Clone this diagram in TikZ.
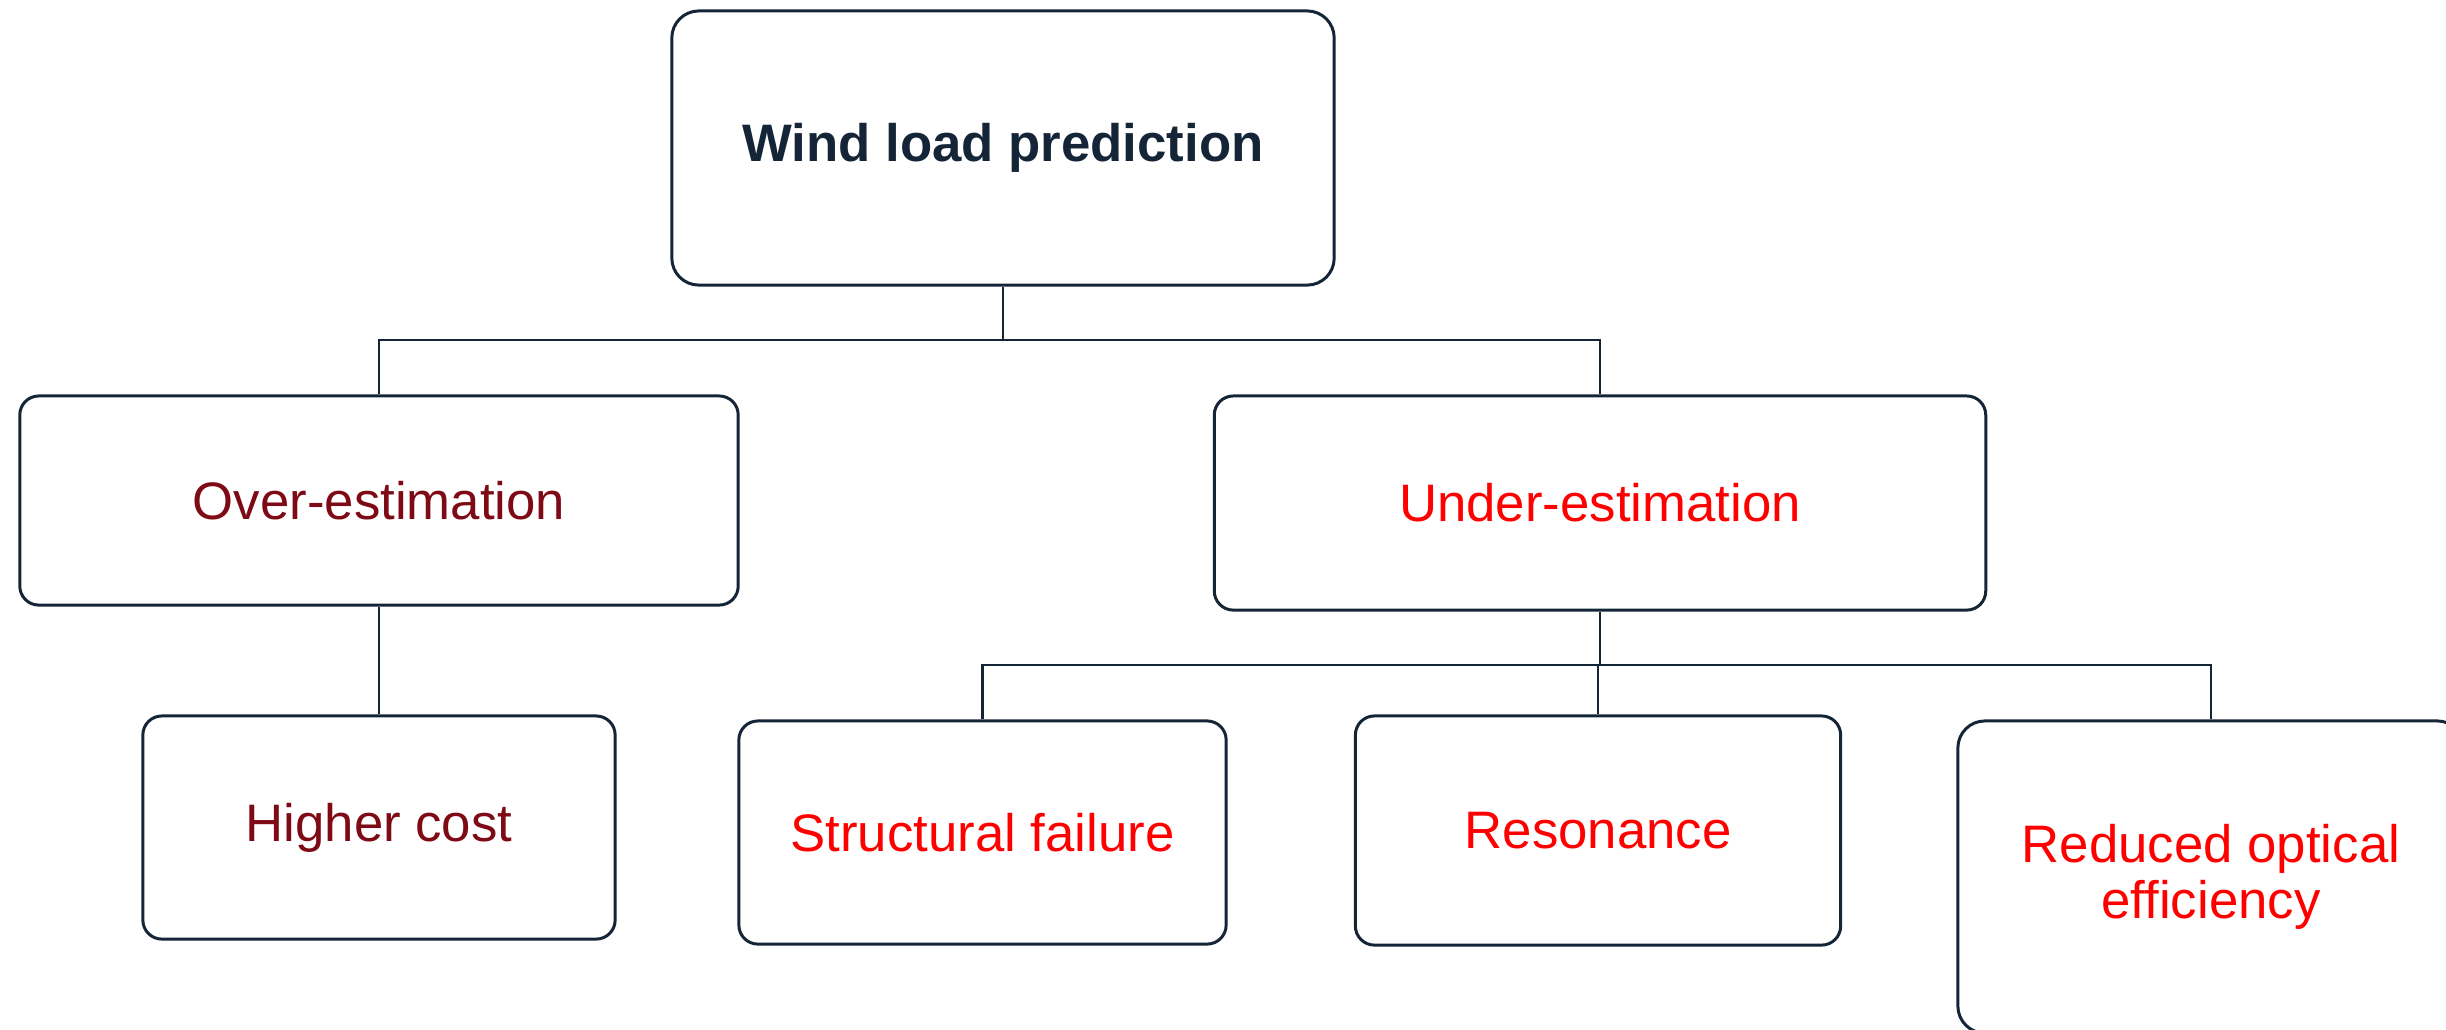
\documentclass[tikz,border=0pt]{standalone}
\usepackage{fontspec}
\setmainfont{Liberation Sans}
\definecolor{navy}{RGB}{20,37,56}
\definecolor{overred}{RGB}{125,10,20}
\definecolor{underred}{RGB}{255,0,0}
\tikzset{
  box/.style={draw=navy,line width=0.85pt,rounded corners=0.19cm,align=center,
    inner sep=0pt,font=\fontsize{15}{16}\selectfont},
  link/.style={draw=navy,line width=0.7pt},
}
\begin{document}
\begin{tikzpicture}[x=0.01cm,y=-0.01cm]
\clip (0,0) rectangle (2446,1029);
% top level
\node[box,rounded corners=0.27cm,minimum width=6.62cm,minimum height=2.74cm,
  text=navy,font=\fontsize{15}{18}\selectfont\bfseries] (wind) at (1003,148) {Wind load prediction};
% second level
\node[box,minimum width=7.18cm,minimum height=2.09cm,text=overred] (over) at (379,500.5) {Over-estimation};
\node[box,minimum width=7.71cm,minimum height=2.14cm,text=underred] (under) at (1600,503) {Under-estimation};
% third level
\node[box,minimum width=4.72cm,minimum height=2.23cm,text=overred] (cost) at (379,827.5) {Higher cost};
\node[box,minimum width=4.87cm,minimum height=2.23cm,text=underred] (fail) at (982.5,832.5) {Structural failure};
\node[box,minimum width=4.85cm,minimum height=2.29cm,text=underred] (reso) at (1598,830.5) {Resonance};
\node[box,rounded corners=0.27cm,minimum width=5.06cm,minimum height=3.12cm,text=underred] (optic) at (2211,877) {Reduced optical\\efficiency};
% connectors
\coordinate (busA) at (1003,340);
\coordinate (busB) at (1600,665);
\draw[link] (wind.south) -- (busA);
\draw[link] (over.north) |- (busA) -| (under.north);
\draw[link] (over.south) -- (cost.north);
\draw[link] (under.south) -- (busB);
\draw[link] (fail.north) |- (busB) -| (optic.north);
\draw[link] (reso.north) -- (reso.north |- busB);
\end{tikzpicture}
\end{document}
